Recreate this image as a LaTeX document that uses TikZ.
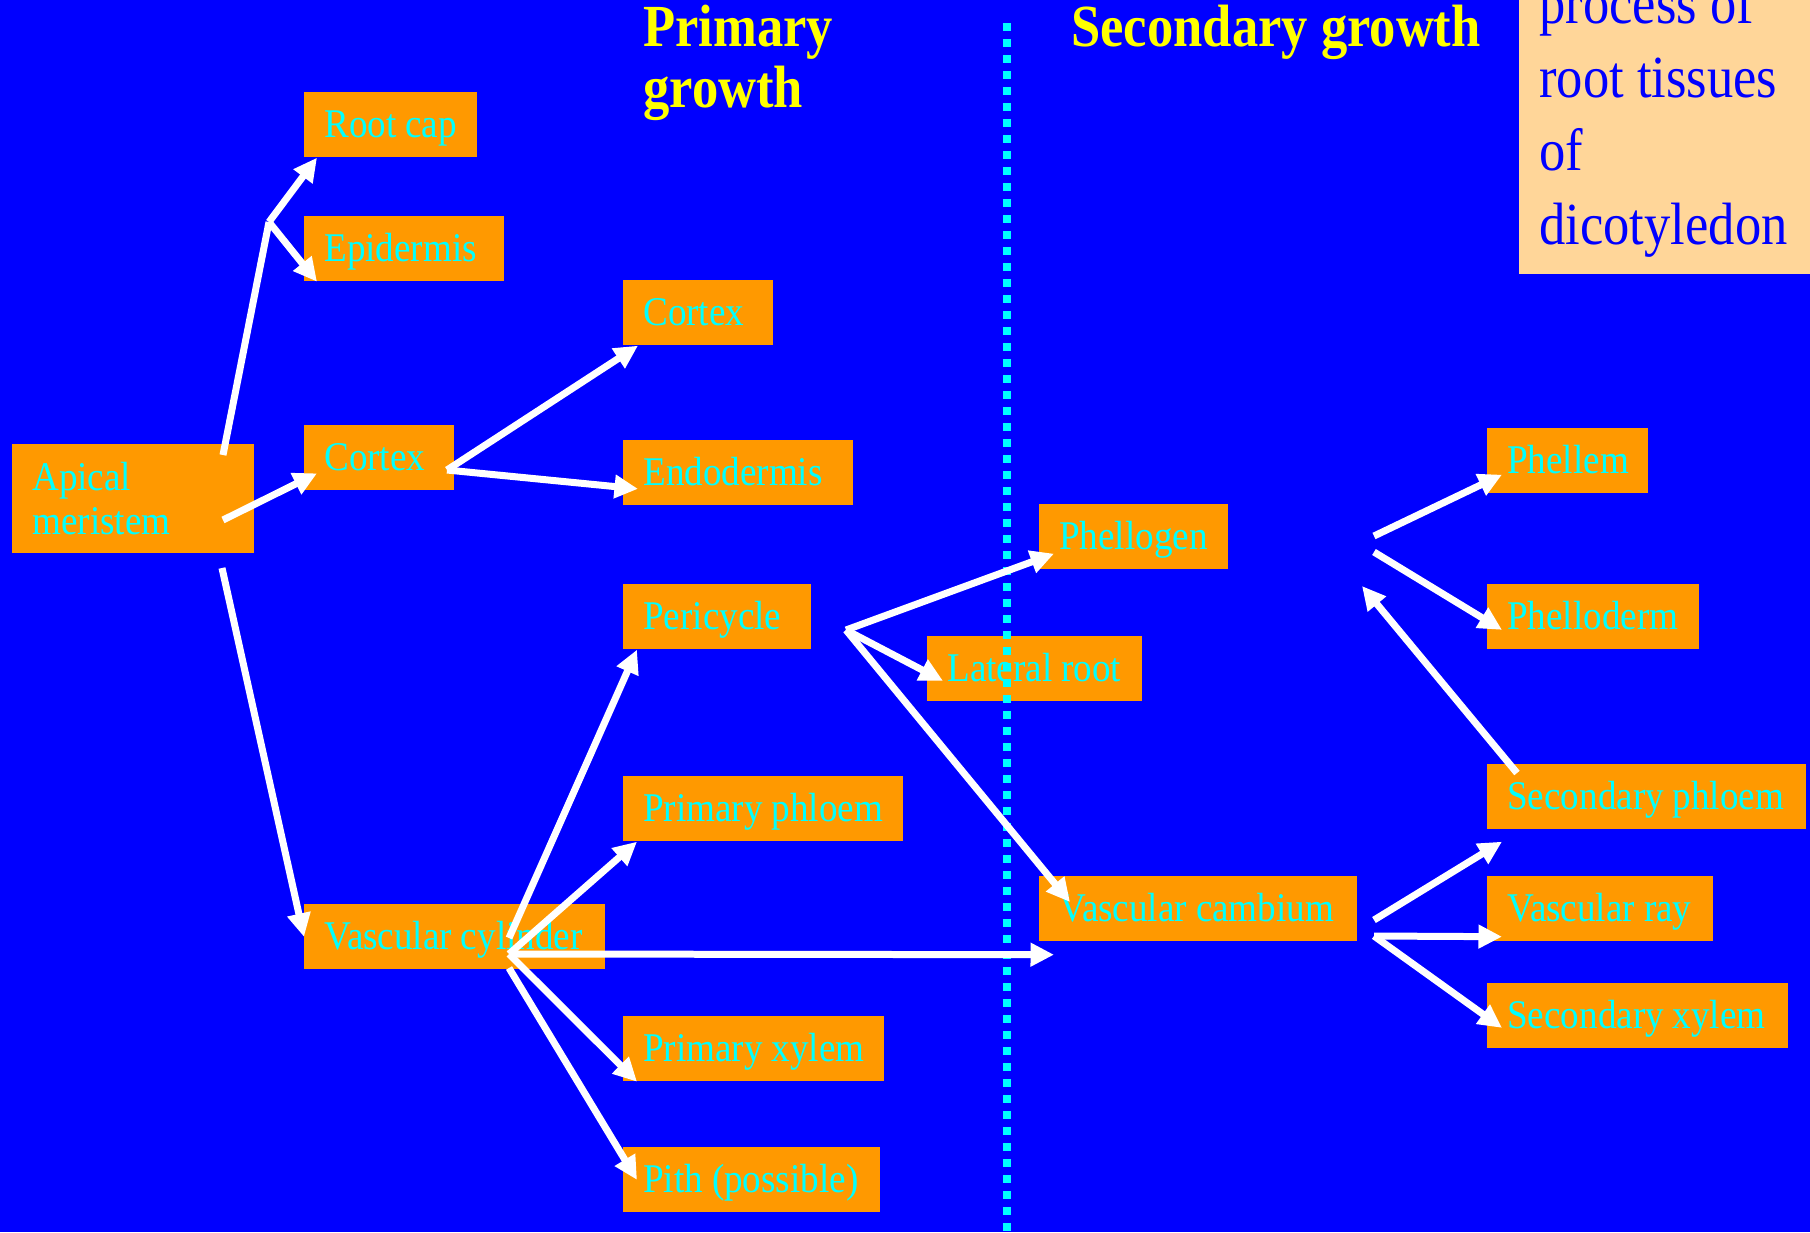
\documentclass[tikz,border=0pt]{standalone}
\usepackage{fontspec}
\setmainfont{Liberation Serif}[FakeStretch=0.88]
\newfontfamily\cellfont{Liberation Serif}[FakeStretch=0.91]
\usepackage{xcolor}
\usetikzlibrary{arrows.meta}

\definecolor{slideblue}{HTML}{0000FF}
\definecolor{boxorange}{HTML}{FF9900}
\definecolor{labelcyan}{HTML}{00FFFF}
\definecolor{headyellow}{HTML}{FFFF00}
\definecolor{notepeach}{HTML}{FFD699}

\begin{document}
\begin{tikzpicture}[
  x=0.02cm, y=-0.02cm,
  tissue/.style={
    rectangle,
    fill=boxorange,
    text=labelcyan,
    anchor=north west,
    text width=#1,
    minimum height=1.3cm,
    inner xsep=0.4cm,
    inner ysep=0pt,
    align=left,
    font=\cellfont\fontsize{23.2pt}{25pt}\selectfont,
    execute at begin node={\spaceskip=0.22em\relax}
  },
  cell/.style={
    tissue=#1,
    text height=0.6cm,
    text depth=0.08cm,
    execute at begin node={\spaceskip=0.22em\relax\hbox\bgroup},
    execute at end node={\egroup}
  },
  heading/.style={
    anchor=base west,
    text=headyellow,
    align=left,
    inner sep=0pt,
    font=\fontsize{34pt}{34.6pt}\selectfont\bfseries
  },
  flow/.style={
    draw=white,
    line width=0.14cm,
    -{Triangle[length=0.47cm,width=0.45cm]}
  },
  stem/.style={
    draw=white,
    line width=0.14cm
  }
]
\useasboundingbox (0,0) rectangle (1810,1232);
\clip (0,0) rectangle (1810,1232);
\fill[slideblue] (0,0) rectangle (1810,1232);

% Headings and note
\node[heading] (prim) at (643,107) {Primary\\growth};
\node[heading] (sec) at (1071,46) {Secondary growth};
\node[fill=notepeach, text=slideblue, anchor=south west, text width=5.6cm,
  inner xsep=0.4cm, inner ysep=0.32cm, align=left,
  font=\fontsize{34pt}{42pt}\selectfont,
  execute at begin node={\spaceskip=0.22em\relax}] (note) at (1519,274)
  {process of\\root tissues\\of\\dicotyledon};

% Primary tissues
\node[tissue=4.04cm, minimum height=2.18cm] (am) at (12,444) {Apical\\meristem};
\node[cell=2.66cm] (rc) at (304,92) {Root cap};
\node[cell=3.2cm] (ep) at (304,216) {Epidermis};
\node[cell=2.2cm] (cx1) at (304,425) {Cortex};
\node[cell=2.2cm] (cx2) at (623,280) {Cortex};
\node[cell=3.8cm] (en) at (623,440) {Endodermis};
\node[cell=2.96cm] (pc) at (623,584) {Pericycle};
\node[cell=4.8cm] (pp) at (623,776) {Primary phloem};
\node[cell=5.22cm] (vc) at (304,904) {Vascular cylinder};
\node[cell=4.42cm] (px) at (623,1016) {Primary xylem};
\node[cell=4.34cm] (pi) at (623,1147) {Pith (possible)};
\node[cell=3.5cm] (lr) at (927,636) {Lateral root};

% Secondary tissues
\node[cell=2.98cm] (pg) at (1039,504) {Phellogen};
\node[cell=5.56cm] (vca) at (1039,876) {Vascular cambium};
\node[cell=2.42cm] (pm) at (1487,428) {Phellem};
\node[cell=3.44cm] (pd) at (1487,584) {Phelloderm};
\node[cell=5.58cm] (sp) at (1487,764) {Secondary phloem};
\node[cell=3.72cm] (vr) at (1487,876) {Vascular ray};
\node[cell=5.22cm] (sx) at (1487,983) {Secondary xylem};

% Divider
\draw[labelcyan, line width=0.16cm, dash pattern=on 0.16cm off 0.16cm]
  (1007,23) -- (1007,1232);

% Arrows from apical meristem
\coordinate (fork) at (269,222);
\coordinate (amtop) at (223,455);
\coordinate (ammid) at (223,520);
\coordinate (amlow) at (222,568);
\draw[stem] (amtop) -- (fork);
\draw[flow] (fork) -- ([xshift=0.26cm]rc.south west);
\draw[flow] (fork) -- ([xshift=0.26cm]ep.south west);
\draw[flow] (ammid) -- ([xshift=0.26cm,yshift=-0.31cm]cx1.west);
\draw[flow] (amlow) -- (vc.west);

% Cortex
\coordinate (cxfan) at (447,470);
\draw[flow] (cxfan) -- ([xshift=0.3cm]cx2.south west);
\draw[flow] (cxfan) -- ([xshift=0.3cm,yshift=-0.32cm]en.west);

% Vascular cylinder
\coordinate (vcfan) at (509,954);
\coordinate (vctop) at (509,938);
\coordinate (vclow) at (509,968);
\draw[flow] (vctop) -- ([xshift=0.28cm]pc.south west);
\draw[flow] (vcfan) -- ([xshift=0.28cm]pp.south west);
\draw[flow] (vcfan) -- ([xshift=0.3cm,yshift=-0.26cm]vca.south west);
\draw[flow] (vcfan) -- ([xshift=0.28cm]px.south west);
\draw[flow] (vclow) -- ([xshift=0.28cm]pi.west);

% Pericycle
\coordinate (pcfan) at (846,630);
\draw[flow] (pcfan) -- ([xshift=0.3cm,yshift=0.32cm]pg.south west);
\draw[flow] (pcfan) -- ([xshift=0.32cm,yshift=-0.24cm]lr.west);
\draw[flow] (pcfan) -- ([xshift=0.62cm,yshift=-0.52cm]vca.north west);

% Vascular cambium
\coordinate (vcahi) at (1374,920);
\coordinate (vcalo) at (1374,936);
\draw[flow] (vcahi) -- ([xshift=0.3cm,yshift=-0.24cm]sp.south west);
\draw[flow] (vcalo) -- ([xshift=0.3cm,yshift=0.1cm]vr.south west);
\draw[flow] (vcalo) -- ([xshift=0.3cm,yshift=-0.24cm]sx.west);

% Phellogen side
\coordinate (pghi) at (1374,536);
\coordinate (pglo) at (1374,552);
\coordinate (pgback) at (1362,586);
\draw[flow] (pghi) -- ([xshift=0.3cm,yshift=0.38cm]pm.south west);
\draw[flow] (pglo) -- ([xshift=0.3cm,yshift=-0.26cm]pd.west);
\draw[flow] ([xshift=0.6cm,yshift=-0.18cm]sp.north west) -- (pgback);

\end{tikzpicture}
\end{document}
